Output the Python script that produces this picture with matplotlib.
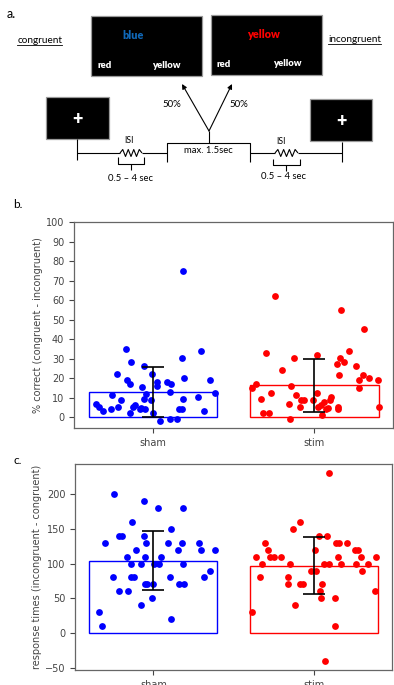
import numpy as np
import matplotlib
matplotlib.use('Agg')
import matplotlib.pyplot as plt
from matplotlib.patches import Rectangle

W, H = 394, 685
GROUPS = ['sham', 'stim']

# panel b: % correct (congruent - incongruent)
acc_sham_x = [-0.353, -0.332, -0.307, -0.255, -0.259, -0.222, -0.218, -0.201, -0.170, -0.164,
              -0.145, -0.139, -0.145, -0.124, -0.110, -0.083, -0.066, -0.058, -0.058, -0.046,
              -0.050, -0.073, -0.010, -0.004, 0.002, 0.025, 0.025, 0.044, 0.089, 0.104,
              0.110, 0.108, 0.151, 0.162, 0.178, 0.180, 0.185, 0.187, 0.191, 0.280,
              0.299, 0.317, 0.357, 0.386]
acc_sham_y = [6.6, 5.1, 2.9, 11.4, 4.1, 22.0, 5.1, 8.5, 35.1, 18.9,
              16.9, 28.1, 2.0, 5.1, 6.3, 4.1, 15.2, 26.2, 9.2, 11.9,
              4.1, 4.6, 8.5, 22.0, 2.0, 17.9, 15.7, -1.9, 17.9, 13.1,
              16.9, -1.0, -1.0, 4.1, 4.1, 30.2, 75.0, 9.2, 19.8, 10.2,
              34.1, 2.9, 18.9, 12.1]
acc_stim_x = [-0.384, -0.361, -0.330, -0.315, -0.301, -0.278, -0.270, -0.241, -0.199, -0.154,
              -0.151, -0.143, -0.122, -0.112, -0.087, -0.081, -0.062, -0.008, 0.017, 0.021,
              0.027, 0.044, 0.050, 0.062, 0.075, 0.087, 0.100, 0.106, 0.141, 0.147,
              0.151, 0.156, 0.162, 0.168, 0.183, 0.216, 0.261, 0.276, 0.282, 0.305,
              0.311, 0.344, 0.394, 0.400]
acc_stim_y = [15.0, 17.0, 9.4, 2.2, 33.0, 2.2, 12.3, 62.3, 24.2, 6.5,
              -1.0, 16.0, 30.2, 11.2, 5.1, 8.5, 8.5, 8.5, 32.0, 12.3,
              5.1, 6.3, 1.0, 7.5, 4.1, 4.6, 8.5, 10.2, 27.3, 5.1,
              4.1, 21.8, 30.2, 55.0, 28.1, 34.1, 26.2, 15.0, 18.9, 21.8,
              45.1, 19.8, 18.9, 5.1]
acc_bar = [12.9, 16.2]
acc_err_lo = [0.0, 2.5]
acc_err_hi = [25.9, 30.0]

# panel c: response times (incongruent - congruent)
rt_sham_x = [-0.342, -0.320, -0.303, -0.255, -0.249, -0.218, -0.214, -0.195, -0.166, -0.162,
             -0.141, -0.137, -0.141, -0.120, -0.106, -0.079, -0.079, -0.060, -0.056, -0.050,
             -0.048, -0.054, -0.041, -0.008, -0.004, 0.004, 0.029, 0.033, 0.048, 0.093,
             0.104, 0.110, 0.110, 0.151, 0.162, 0.180, 0.187, 0.187, 0.191, 0.282,
             0.299, 0.315, 0.353, 0.384]
rt_sham_y = [30, 10, 130, 80, 200, 140, 60, 140, 110, 60,
             100, 160, 80, 80, 120, 100, 40, 190, 140, 110,
             130, 70, 70, 50, 70, 100, 180, 100, 110, 130,
             80, 150, 20, 120, 70, 130, 180, 100, 70, 130,
             120, 80, 90, 120]
rt_stim_x = [-0.384, -0.361, -0.332, -0.322, -0.301, -0.282, -0.274, -0.247, -0.205, -0.158,
             -0.158, -0.145, -0.127, -0.116, -0.087, -0.087, -0.066, -0.017, 0.008, 0.017,
             0.033, 0.041, 0.046, 0.054, 0.068, 0.071, 0.083, 0.095, 0.095, 0.131,
             0.137, 0.143, 0.151, 0.162, 0.172, 0.207, 0.257, 0.266, 0.276, 0.297,
             0.301, 0.338, 0.382, 0.390]
rt_stim_y = [30, 110, 80, 100, 130, 120, 110, 110, 110, 70,
             80, 100, 150, 40, 160, 70, 70, 90, 120, 90,
             140, 60, 50, 70, 100, -40, 140, 230, 100, 10,
             50, 130, 110, 130, 100, 130, 120, 100, 120, 110,
             90, 100, 60, 110]
rt_bar = [104, 97]
rt_err_lo = [61.5, 55.8]
rt_err_hi = [147, 138.5]

GRAY = '#444444'
DIAG_FONT = ['Lato', 'DejaVu Sans']

fig = plt.figure(figsize=(W / 100, H / 100), dpi=100)

# ---------------- panel a: task diagram (pixel coordinates) ----------------
ax0 = fig.add_axes([0, 0, 1, 1])
ax0.set_xlim(0, W)
ax0.set_ylim(H, 0)
ax0.axis('off')


def box(x, y, w, h):
    ax0.add_patch(Rectangle((x, y), w, h, facecolor='black', edgecolor='#9a9a9a', lw=0.9))


def txt(x, y, s, color='black', size=6.5, weight='normal'):
    return ax0.text(x, y, s, color=color, fontsize=size, fontweight=weight,
                    ha='center', va='center', family=DIAG_FONT)


def line(xs, ys):
    ax0.plot(xs, ys, color='black', lw=0.8, solid_capstyle='butt')


def zigzag(x0, x1, y, amp=3.5, n=4):
    xs = np.linspace(x0, x1, 2 * n + 1)
    ys = [y] + [y - amp if i % 2 == 0 else y + amp for i in range(2 * n - 1)] + [y]
    line(xs, ys)


fig.text(7 / W, 1 - 14 / H, 'a.', fontsize=9, family=DIAG_FONT, va='center')
box(91, 16, 111, 60)
box(211, 15, 111, 60)
txt(133, 35, 'blue', color='#1068b8', size=7.8, weight='heavy')
txt(105, 65, 'red', color='white', size=6.8, weight='heavy')
txt(166, 65, 'yellow', color='white', size=6.8, weight='heavy')
txt(263, 34, 'yellow', color='#ff0000', size=7.8, weight='heavy')
txt(224, 64, 'red', color='white', size=6.8, weight='heavy')
txt(287, 63, 'yellow', color='white', size=6.8, weight='heavy')

t_con = txt(40, 40, 'congruent', size=7.2)
t_inc = txt(355, 39, 'incongruent', size=7.2)

box(46, 97, 63, 42)
box(310, 99, 62, 42)
txt(77, 119, '+', color='white', size=13, weight='heavy')
txt(341, 121, '+', color='white', size=13, weight='heavy')

# timeline
line([77, 77], [139, 160])
line([77, 120], [153, 153])
zigzag(120, 142, 153)
line([142, 167], [153, 153])
line([167, 167, 250, 250], [162, 143, 143, 162])
line([250, 275], [153, 153])
zigzag(275, 298, 153)
line([298, 342], [153, 153])
line([342, 342], [142, 162])
line([209, 209], [143, 131])
for tx in (182, 232):
    ax0.annotate('', xy=(tx, 84), xytext=(209, 131),
                 arrowprops=dict(arrowstyle='-|>', color='black', lw=0.8,
                                 mutation_scale=7, shrinkA=0, shrinkB=0))
txt(172, 104, '50%', size=7)
txt(239, 104, '50%', size=7)
txt(208, 150, 'max. 1.5sec', size=6.8)
txt(129, 140, 'ISI', size=6.3)
txt(281, 141, 'ISI', size=6.3)
line([118, 118, 144, 144], [157, 164, 164, 157])
line([131, 131], [164, 170])
line([273, 273, 300, 300], [159, 165, 165, 159])
line([286, 286], [165, 171])
txt(131, 178, '0.5 – 4 sec', size=6.8)
txt(284, 176, '0.5 – 4 sec', size=6.8)

# ---------------- panels b and c ----------------


def panel(rect, sx, sy, tx, ty, bars, lo, hi, ylim, yticks, ylabel):
    ax = fig.add_axes(rect)
    ax.bar([0, 1], bars, width=0.8, fill=False, edgecolor=['blue', 'red'], lw=1.0, zorder=2)
    ax.scatter(sx, sy, s=24, color='blue', zorder=3, linewidths=0)
    ax.scatter(np.array(tx) + 1, ty, s=24, color='red', zorder=3, linewidths=0)
    for i in range(2):
        mid = (lo[i] + hi[i]) / 2
        ax.errorbar(i, mid, yerr=(hi[i] - lo[i]) / 2, color='black', lw=1.2,
                    capsize=8, capthick=1.2, zorder=4)
    ax.set_xlim(-0.49, 1.49)
    ax.set_ylim(*ylim)
    ax.set_yticks(yticks)
    ax.set_xticks([0, 1])
    ax.set_xticklabels(GROUPS)
    ax.tick_params(labelsize=7, colors=GRAY, length=3.5, width=0.8)
    for sp in ax.spines.values():
        sp.set_edgecolor('#666666')
        sp.set_linewidth(0.9)
    ax.set_ylabel(ylabel, fontsize=7, color=GRAY, labelpad=2)
    return ax


axb = panel([74 / W, 1 - 428 / H, 319 / W, 206 / H],
            acc_sham_x, acc_sham_y, acc_stim_x, acc_stim_y,
            acc_bar, acc_err_lo, acc_err_hi, (-5.6, 100), np.arange(0, 101, 10),
            '% correct (congruent - incongruent)')
axc = panel([75 / W, 1 - 670 / H, 317 / W, 206 / H],
            rt_sham_x, rt_sham_y, rt_stim_x, rt_stim_y,
            rt_bar, rt_err_lo, rt_err_hi, (-53.5, 243.7), np.arange(-50, 201, 50),
            'response times (incongruent - congruent)')
fig.text(13 / W, 1 - 204 / H, 'b.', fontsize=8.5, family=DIAG_FONT, va='center')
fig.text(13 / W, 1 - 461 / H, 'c.', fontsize=8.5, family=DIAG_FONT, va='center')

# underline for the congruent / incongruent labels
fig.canvas.draw()
inv = ax0.transData.inverted()
for t in (t_con, t_inc):
    bb = t.get_window_extent()
    (x0, y0), (x1, y1) = inv.transform([[bb.x0, bb.y0], [bb.x1, bb.y1]])
    ax0.plot([x0, x1], [y0 + 0.5, y0 + 0.5], color='black', lw=0.6)

fig.savefig('out.png', dpi=100)
